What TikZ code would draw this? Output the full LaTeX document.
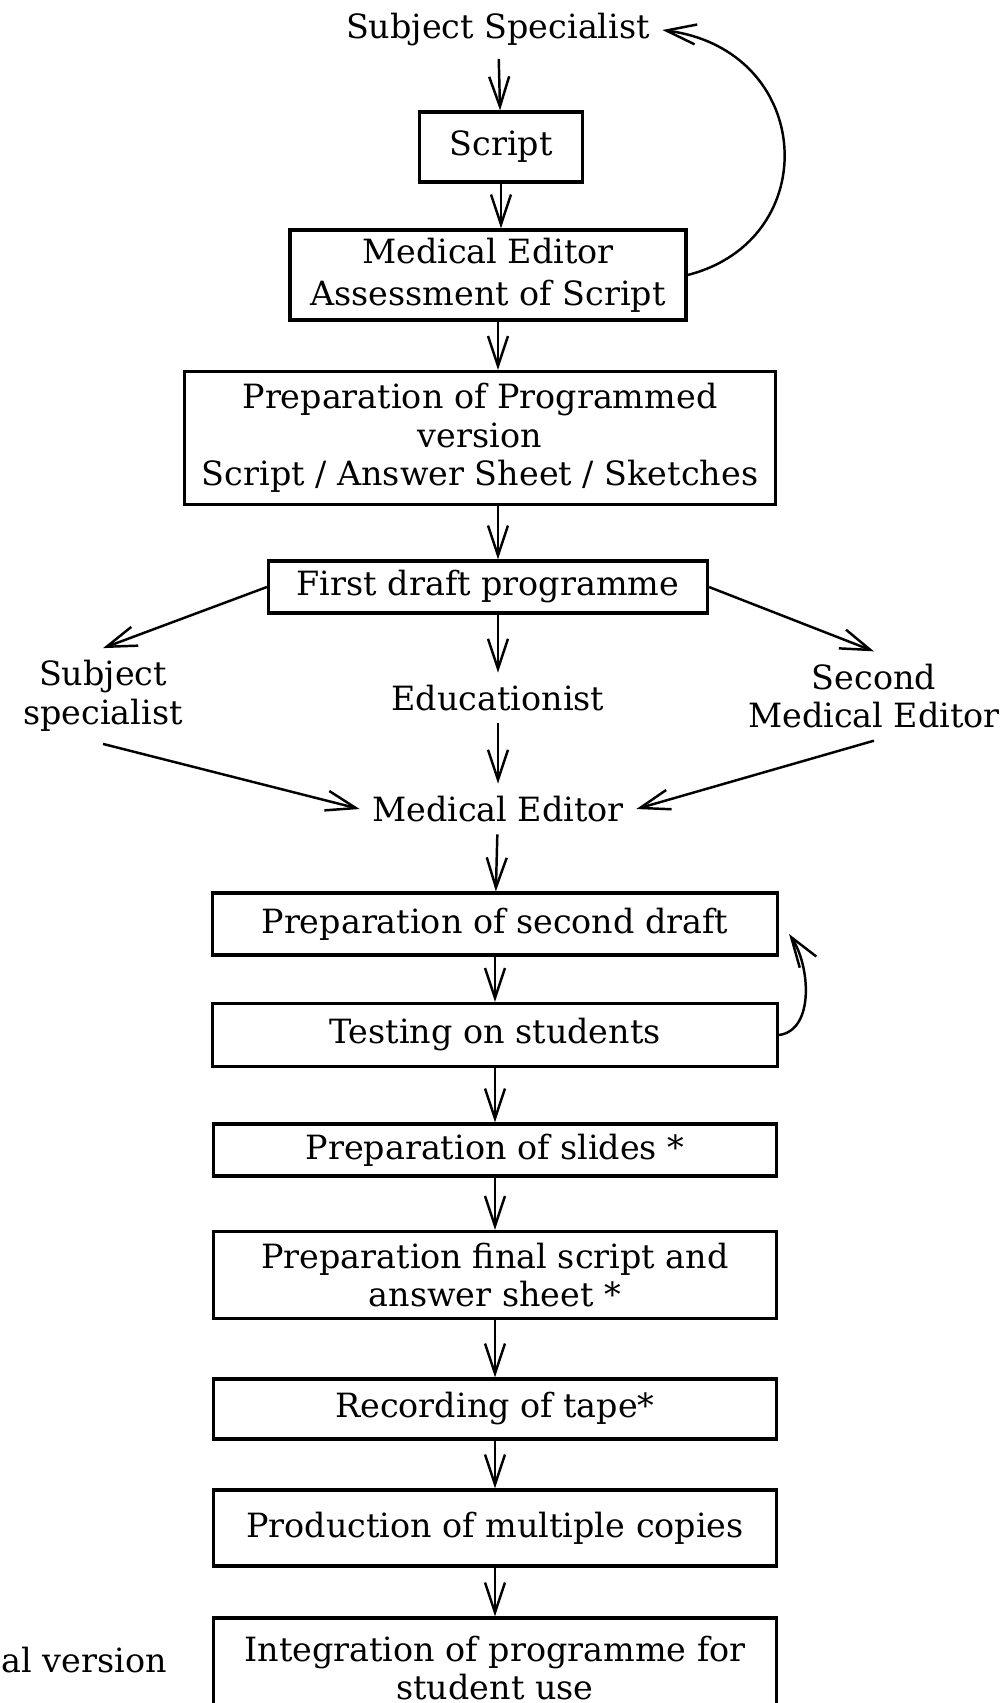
\documentclass[tikz,border=0pt]{standalone}
\usepackage{fontspec}
\setmainfont{DejaVu Serif}
\usetikzlibrary{arrows.meta}
\begin{document}
\begin{tikzpicture}[x=0.1mm, y=-0.1mm, font=\fontsize{9.5}{11}\selectfont,
  box/.style={draw, line width=0.9pt, align=center, inner sep=0pt},
  lbl/.style={align=center},
  flow/.style={-{Straight Barb[length=3mm,width=2mm]}, line width=0.7pt}]
\useasboundingbox (0,0) rectangle (1001,1703);
% upper part
\node (spec) at (498,30) {Subject Specialist};
\node[box, minimum width=16.3mm, minimum height=7mm] (script) at (501,147) {Script};
\node[box, minimum width=39.6mm, minimum height=9mm] (medA) at (488,275) {Medical Editor\\[1pt]Assessment of Script};
\node[box, minimum width=59.1mm, minimum height=13.3mm] (progr) at (480,438) {Preparation of Programmed\\version\\Script / Answer Sheet / Sketches};
\node[box, minimum width=43.9mm, minimum height=5.2mm] (first) at (488,587) {First draft programme};
% the three readers
\node[lbl] (subj) at (103,696) {Subject\\specialist};
\node[lbl] (educ) at (498,698) {Educationist};
\node[lbl] (second) at (874,696) {Second\\Medical Editor};
\node (medB) at (498,809) {Medical Editor};
% lower part
\node[box, minimum width=56.5mm, minimum height=6.2mm] (secdraft) at (495,924) {Preparation of second draft};
\node[box, minimum width=56.5mm, minimum height=6.3mm] (testing) at (495,1035) {Testing on students};
\node[box, minimum width=56.3mm, minimum height=5.2mm] (slides) at (495,1150) {Preparation of slides *};
\node[box, minimum width=56.3mm, minimum height=8.7mm] (final) at (495,1275) {Preparation final script and\\answer sheet *};
\node[box, minimum width=56.3mm, minimum height=6mm] (tape) at (495,1409) {Recording of tape*};
\node[box, minimum width=56.3mm, minimum height=7.6mm] (copies) at (495,1528) {Production of multiple copies};
\node[box, minimum width=56.3mm, minimum height=10mm] (integ) at (495,1668) {Integration of programme for\\student use};
\node[anchor=west, inner sep=0pt] (fin) at (1,1660) {al version};
% arrows
\draw[flow] (spec) -- (script);
\draw[flow] (script) -- (medA.north -| script);
\draw[flow] (medA.south -| spec) -- (progr.north -| spec);
\draw[flow] (progr.south -| spec) -- (first.north -| spec);
\draw[flow] (medA.east) .. controls (825,240) and (815,50) .. (spec.east);
\draw[flow] (first.west) -- (subj.north);
\draw[flow] (first.south -| educ) -- (educ);
\draw[flow] (first.east) -- (second.north);
\draw[flow] (subj.south) -- (medB.west);
\draw[flow] (educ) -- (medB);
\draw[flow] (second.south) -- (medB.east);
\draw[flow] (medB) -- (secdraft);
\draw[flow] (secdraft) -- (testing);
\draw[flow] (testing.east) .. controls (815,1030) and (810,965) .. ([xshift=1mm,yshift=-1mm]secdraft.east);
\draw[flow] (testing) -- (slides);
\draw[flow] (slides) -- (final);
\draw[flow] (final) -- (tape);
\draw[flow] (tape) -- (copies);
\draw[flow] (copies) -- (integ);
\end{tikzpicture}
\end{document}
